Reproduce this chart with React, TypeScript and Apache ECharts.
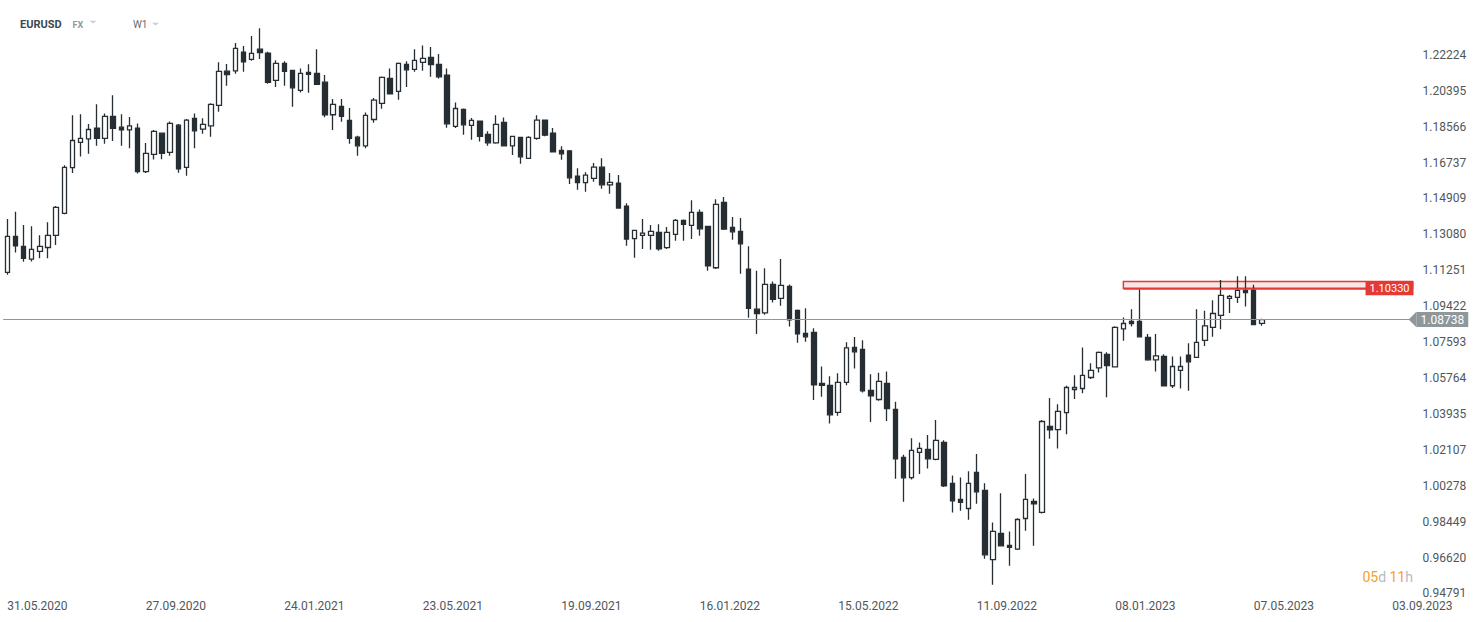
import React, { useEffect, useRef } from "react";
import * as echarts from "echarts";

// Weekly EURUSD candles, week of 31.05.2020 to week of 14.05.2023
const OPEN = [
  1.1114, 1.1298, 1.1247, 1.1182, 1.1221, 1.1241, 1.1303, 1.1415, 1.1648, 1.1776,
  1.1794, 1.1849, 1.1797, 1.1909, 1.1854, 1.1840, 1.1849, 1.1627, 1.1715, 1.1823,
  1.1725, 1.1864, 1.1649, 1.1899, 1.1844, 1.1860, 1.1965, 1.2139, 1.2141, 1.2236,
  1.2199, 1.2251, 1.2231, 1.2092, 1.2179, 1.2143, 1.2041, 1.2133, 1.2128, 1.2083,
  1.1917, 1.1960, 1.1888, 1.1803, 1.1759, 1.1893, 1.1975, 1.2102, 1.2036, 1.2174,
  1.2148, 1.2184, 1.2209, 1.2174, 1.2119, 1.1858, 1.1944, 1.1863, 1.1885, 1.1817,
  1.1774, 1.1878, 1.1759, 1.1802, 1.1695, 1.1797, 1.1890, 1.1824, 1.1736, 1.1733,
  1.1605, 1.1571, 1.1593, 1.1650, 1.1560, 1.1569, 1.1452, 1.1286, 1.1303, 1.1303,
  1.1318, 1.1240, 1.1308, 1.1379, 1.1354, 1.1420, 1.1349, 1.1138, 1.1471, 1.1343,
  1.1323, 1.1131, 1.0927, 1.0908, 1.1053, 1.0982, 1.1043, 1.0921, 1.0803, 1.0809,
  1.0549, 1.0539, 1.0401, 1.0554, 1.0732, 1.0722, 1.0513, 1.0467, 1.0549, 1.0416,
  1.0172, 1.0069, 1.0198, 1.0213, 1.0162, 1.0248, 1.0040, 0.9958, 0.9912, 1.0096,
  1.0004, 0.9652, 0.9785, 0.9724, 0.9705, 0.9861, 0.9948, 0.9892, 1.0330, 1.0314,
  1.0400, 1.0518, 1.0523, 1.0579, 1.0628, 1.0697, 1.0633, 1.0827, 1.0865, 1.0865,
  1.0783, 1.0669, 1.0686, 1.0537, 1.0615, 1.0693, 1.0681, 1.0768, 1.0834, 1.0895,
  1.0982, 1.0987, 1.1023, 1.1024, 1.0855,
];
const CLOSE = [
  1.1298, 1.1250, 1.1186, 1.1231, 1.1247, 1.1303, 1.1445, 1.1649, 1.1786, 1.1797,
  1.1842, 1.1797, 1.1909, 1.1848, 1.1840, 1.1860, 1.1627, 1.1720, 1.1832, 1.1720,
  1.1873, 1.1642, 1.1890, 1.1835, 1.1868, 1.1970, 1.2138, 1.2121, 1.2255, 1.2187,
  1.2230, 1.2233, 1.2082, 1.2179, 1.2138, 1.2054, 1.2128, 1.2123, 1.2072, 1.1917,
  1.1970, 1.1909, 1.1797, 1.1759, 1.1914, 1.1992, 1.2107, 1.2024, 1.2179, 1.2146,
  1.2194, 1.2204, 1.2172, 1.2110, 1.1871, 1.1949, 1.1866, 1.1888, 1.1807, 1.1774,
  1.1868, 1.1759, 1.1807, 1.1703, 1.1802, 1.1890, 1.1813, 1.1728, 1.1718, 1.1596,
  1.1571, 1.1610, 1.1650, 1.1560, 1.1573, 1.1442, 1.1284, 1.1328, 1.1314, 1.1323,
  1.1234, 1.1318, 1.1379, 1.1359, 1.1420, 1.1336, 1.1148, 1.1461, 1.1335, 1.1321,
  1.1260, 1.0931, 1.0904, 1.1053, 1.0977, 1.1048, 1.0873, 1.0801, 1.0786, 1.0542,
  1.0539, 1.0389, 1.0554, 1.0730, 1.0710, 1.0511, 1.0486, 1.0559, 1.0420, 1.0165,
  1.0068, 1.0208, 1.0218, 1.0165, 1.0259, 1.0027, 0.9951, 0.9943, 1.0040, 0.9997,
  0.9676, 0.9795, 0.9722, 0.9714, 0.9856, 0.9958, 0.9936, 1.0355, 1.0313, 1.0406,
  1.0528, 1.0528, 1.0590, 1.0615, 1.0707, 1.0639, 1.0834, 1.0854, 1.0854, 1.0786,
  1.0669, 1.0689, 1.0537, 1.0635, 1.0635, 1.0659, 1.0758, 1.0842, 1.0905, 1.0997,
  1.0992, 1.1023, 1.1012, 1.0849, 1.08738,
];
const LOW = [
  1.1102, 1.1216, 1.1168, 1.1170, 1.1186, 1.1186, 1.1254, 1.1410, 1.1620, 1.1705,
  1.1718, 1.1759, 1.1769, 1.1784, 1.1759, 1.1746, 1.1618, 1.1621, 1.1689, 1.1690,
  1.1708, 1.1622, 1.1606, 1.1747, 1.1820, 1.1805, 1.1932, 1.2065, 1.2126, 1.2136,
  1.2192, 1.2201, 1.2075, 1.2059, 1.2065, 1.1958, 1.2031, 1.2029, 1.2068, 1.1904,
  1.1840, 1.1881, 1.1769, 1.1708, 1.1746, 1.1876, 1.1947, 1.2020, 1.1993, 1.2059,
  1.2136, 1.2141, 1.2110, 1.2102, 1.1851, 1.1850, 1.1815, 1.1790, 1.1781, 1.1759,
  1.1769, 1.1755, 1.1712, 1.1667, 1.1692, 1.1790, 1.1808, 1.1725, 1.1688, 1.1565,
  1.1535, 1.1525, 1.1576, 1.1540, 1.1515, 1.1439, 1.1250, 1.1189, 1.1233, 1.1229,
  1.1224, 1.1234, 1.1275, 1.1275, 1.1284, 1.1301, 1.1122, 1.1132, 1.1330, 1.1280,
  1.1107, 1.0883, 1.0801, 1.0898, 1.0961, 1.0944, 1.0839, 1.0756, 1.0761, 1.0465,
  1.0481, 1.0345, 1.0384, 1.0540, 1.0625, 1.0503, 1.0353, 1.0460, 1.0358, 1.0063,
  0.9946, 1.0060, 1.0088, 1.0116, 1.0158, 1.0022, 0.9892, 0.9900, 0.9854, 0.9936,
  0.9656, 0.9523, 0.9720, 0.9620, 0.9700, 0.9798, 0.9722, 0.9886, 1.0267, 1.0218,
  1.0290, 1.0469, 1.0499, 1.0571, 1.0605, 1.0478, 1.0630, 1.0766, 1.0839, 1.0783,
  1.0664, 1.0610, 1.0533, 1.0525, 1.0523, 1.0511, 1.0678, 1.0740, 1.0786, 1.0825,
  1.0907, 1.0959, 1.0941, 1.0846, 1.0842,
];
const HIGH = [
  1.1386, 1.1423, 1.1355, 1.1349, 1.1304, 1.1369, 1.1453, 1.1660, 1.1915, 1.1920,
  1.1870, 1.1971, 1.1924, 1.2017, 1.1920, 1.1905, 1.1873, 1.1773, 1.1840, 1.1827,
  1.1883, 1.1870, 1.1895, 1.1924, 1.1899, 1.1975, 1.2184, 1.2175, 1.2282, 1.2267,
  1.2318, 1.2358, 1.2238, 1.2194, 1.2189, 1.2146, 1.2153, 1.2174, 1.2251, 1.2119,
  1.1997, 1.1997, 1.1951, 1.1810, 1.1929, 1.2002, 1.2112, 1.2153, 1.2183, 1.2189,
  1.2251, 1.2270, 1.2262, 1.2226, 1.2153, 1.1980, 1.1949, 1.1900, 1.1888, 1.1833,
  1.1915, 1.1903, 1.1809, 1.1805, 1.1808, 1.1915, 1.1892, 1.1849, 1.1757, 1.1738,
  1.1645, 1.1624, 1.1671, 1.1696, 1.1620, 1.1610, 1.1467, 1.1332, 1.1386, 1.1355,
  1.1360, 1.1345, 1.1386, 1.1384, 1.1482, 1.1435, 1.1352, 1.1487, 1.1498, 1.1396,
  1.1391, 1.1247, 1.1122, 1.1136, 1.1068, 1.1182, 1.1053, 1.0925, 1.0932, 1.0830,
  1.0635, 1.0585, 1.0601, 1.0758, 1.0785, 1.0769, 1.0596, 1.0603, 1.0610, 1.0455,
  1.0185, 1.0270, 1.0248, 1.0286, 1.0362, 1.0259, 1.0080, 1.0070, 1.0102, 1.0189,
  1.0040, 0.9841, 0.9989, 0.9795, 0.9862, 1.0087, 0.9963, 1.0362, 1.0474, 1.0443,
  1.0537, 1.0591, 1.0732, 1.0651, 1.0712, 1.0707, 1.0840, 1.0885, 1.0927, 1.1029,
  1.0800, 1.0800, 1.0697, 1.0686, 1.0686, 1.0754, 1.0927, 1.0919, 1.0973, 1.1075,
  1.0999, 1.1094, 1.1094, 1.1051, 1.0878,
];

const FUTURE_WEEKS = 18;
const FIRST_WEEK = Date.UTC(2020, 4, 31);
const WEEK_MS = 7 * 24 * 3600 * 1000;
const LABEL_EVERY = 17;

function fmtDate(t: number): string {
  const d = new Date(t);
  const dd = String(d.getUTCDate()).padStart(2, "0");
  const mm = String(d.getUTCMonth() + 1).padStart(2, "0");
  return `${dd}.${mm}.${d.getUTCFullYear()}`;
}
const CATEGORIES = Array.from({ length: OPEN.length + FUTURE_WEEKS }, (_, i) =>
  fmtDate(FIRST_WEEK + i * WEEK_MS)
);

const Y_TICKS = [
  0.94791, 0.9662, 0.98449, 1.00278, 1.02107, 1.03935, 1.05764, 1.07593,
  1.09422, 1.11251, 1.1308, 1.14909, 1.16737, 1.18566, 1.20395, 1.22224,
];
const Y_MIN = 0.945;
const Y_MAX = 1.2395;

const LAST_PRICE = 1.08738;
const RESIST_LEVEL = 1.1033;
const RESIST_TOP = 1.1068;
const RESIST_START = "15.01.2023";

const INK = "#262e33";
const AXIS_TEXT = "#50575b";
const FONT = "Roboto";

export default function App() {
  const ref = useRef<HTMLDivElement>(null);
  useEffect(() => {
    if (!ref.current) return;
    const chart = echarts.init(ref.current, undefined, { renderer: "svg" });
    const candles = OPEN.map((o, i) => [o, CLOSE[i], LOW[i], HIGH[i]]);
    chart.setOption({
      animation: false,
      backgroundColor: "#ffffff",
      grid: {
        left: 3.2,
        right: 69.4,
        top: 20.9,
        bottom: 22.8,
        containLabel: false,
        outerBoundsMode: "none",
      },
      xAxis: {
        type: "category",
        data: CATEGORIES,
        boundaryGap: true,
        axisLine: { show: false },
        axisTick: { show: false },
        splitLine: { show: false },
        axisLabel: {
          interval: (idx: number) => idx % LABEL_EVERY === 0,
          align: "left",
          margin: 1,
          color: AXIS_TEXT,
          fontSize: 12,
          fontFamily: FONT,
        },
      },
      yAxis: {
        type: "value",
        position: "right",
        min: Y_MIN,
        max: Y_MAX,
        axisLine: { show: false },
        axisTick: { show: false },
        splitLine: { show: false },
        axisLabel: {
          customValues: Y_TICKS,
          formatter: (v: number) => v.toFixed(5),
          margin: 10,
          color: AXIS_TEXT,
          fontSize: 12,
          fontFamily: FONT,
        },
      },
      series: [
        {
          type: "candlestick",
          data: candles,
          barWidth: 5,
          itemStyle: {
            color: "#ffffff",
            color0: INK,
            borderColor: INK,
            borderColor0: INK,
            borderWidth: 1.3,
          },
          markArea: {
            silent: true,
            itemStyle: {
              color: "rgba(229,57,53,0.12)",
              borderColor: "#e53935",
              borderWidth: 1.5,
            },
            data: [[{ xAxis: RESIST_START, yAxis: RESIST_TOP }, { yAxis: RESIST_LEVEL }]],
          },
          markLine: {
            silent: true,
            precision: 5,
            symbol: ["none", "path://M0,8 L8,0 L8,16 Z"],
            symbolSize: [8, 16],
            symbolRotate: 0,
            lineStyle: { color: "#8e979b", width: 1, type: "solid" },
            label: {
              show: true,
              position: "end",
              distance: 4,
              formatter: LAST_PRICE.toFixed(5),
              color: "#ffffff",
              backgroundColor: "#8e979b",
              padding: [2, 4, 1, 4],
              fontSize: 12,
              fontFamily: FONT,
            },
            data: [
              { yAxis: LAST_PRICE, itemStyle: { color: "#8e979b" } },
              [
                {
                  xAxis: RESIST_START,
                  yAxis: RESIST_LEVEL,
                  symbol: "none",
                  lineStyle: { color: "#e53935", width: 1.5, type: "solid" },
                  label: {
                    show: true,
                    position: "end",
                    distance: -43,
                    formatter: RESIST_LEVEL.toFixed(5),
                    color: "#ffffff",
                    backgroundColor: "#e53935",
                    padding: [2, 4, 1, 4],
                    fontSize: 11,
                    fontFamily: FONT,
                  },
                },
                {
                  xAxis: CATEGORIES[CATEGORIES.length - 1],
                  yAxis: RESIST_LEVEL,
                  symbol: "none",
                },
              ],
            ],
          },
        },
      ],
      graphic: [
        {
          type: "text",
          x: 20,
          y: 24.5,
          style: { text: "EURUSD", font: `bold 11px ${FONT}`, fill: "#3c4850", verticalAlign: "middle" },
        },
        {
          type: "text",
          x: 72.5,
          y: 24.5,
          style: { text: "FX", font: `bold 9px ${FONT}`, fill: "#8d99a2", verticalAlign: "middle" },
        },
        {
          type: "polygon",
          shape: { points: [[89.5, 20.8], [96.5, 20.8], [93, 23.6]] },
          style: { fill: "#c8ced2" },
        },
        {
          type: "text",
          x: 133,
          y: 24.5,
          style: { text: "W1", font: `10px ${FONT}`, fill: "#5f6b73", verticalAlign: "middle" },
        },
        {
          type: "polygon",
          shape: { points: [[152, 22.8], [159, 22.8], [155.5, 25.6]] },
          style: { fill: "#c8ced2" },
        },
        {
          type: "text",
          x: 1413,
          y: 577,
          style: {
            text: "{o|05}{g|d} {o|11}{g|h}",
            align: "right",
            verticalAlign: "middle",
            font: `14px ${FONT}`,
            rich: {
              o: { fill: "#f5a11c", fontSize: 14, fontFamily: FONT },
              g: { fill: "#b5bbbf", fontSize: 14, fontFamily: FONT },
            },
          },
        },
      ],
    });
    return () => chart.dispose();
  }, []);
  return (
    <div
      ref={ref}
      style={{ position: "fixed", left: 0, top: 0, width: 1482, height: 622 }}
    />
  );
}
